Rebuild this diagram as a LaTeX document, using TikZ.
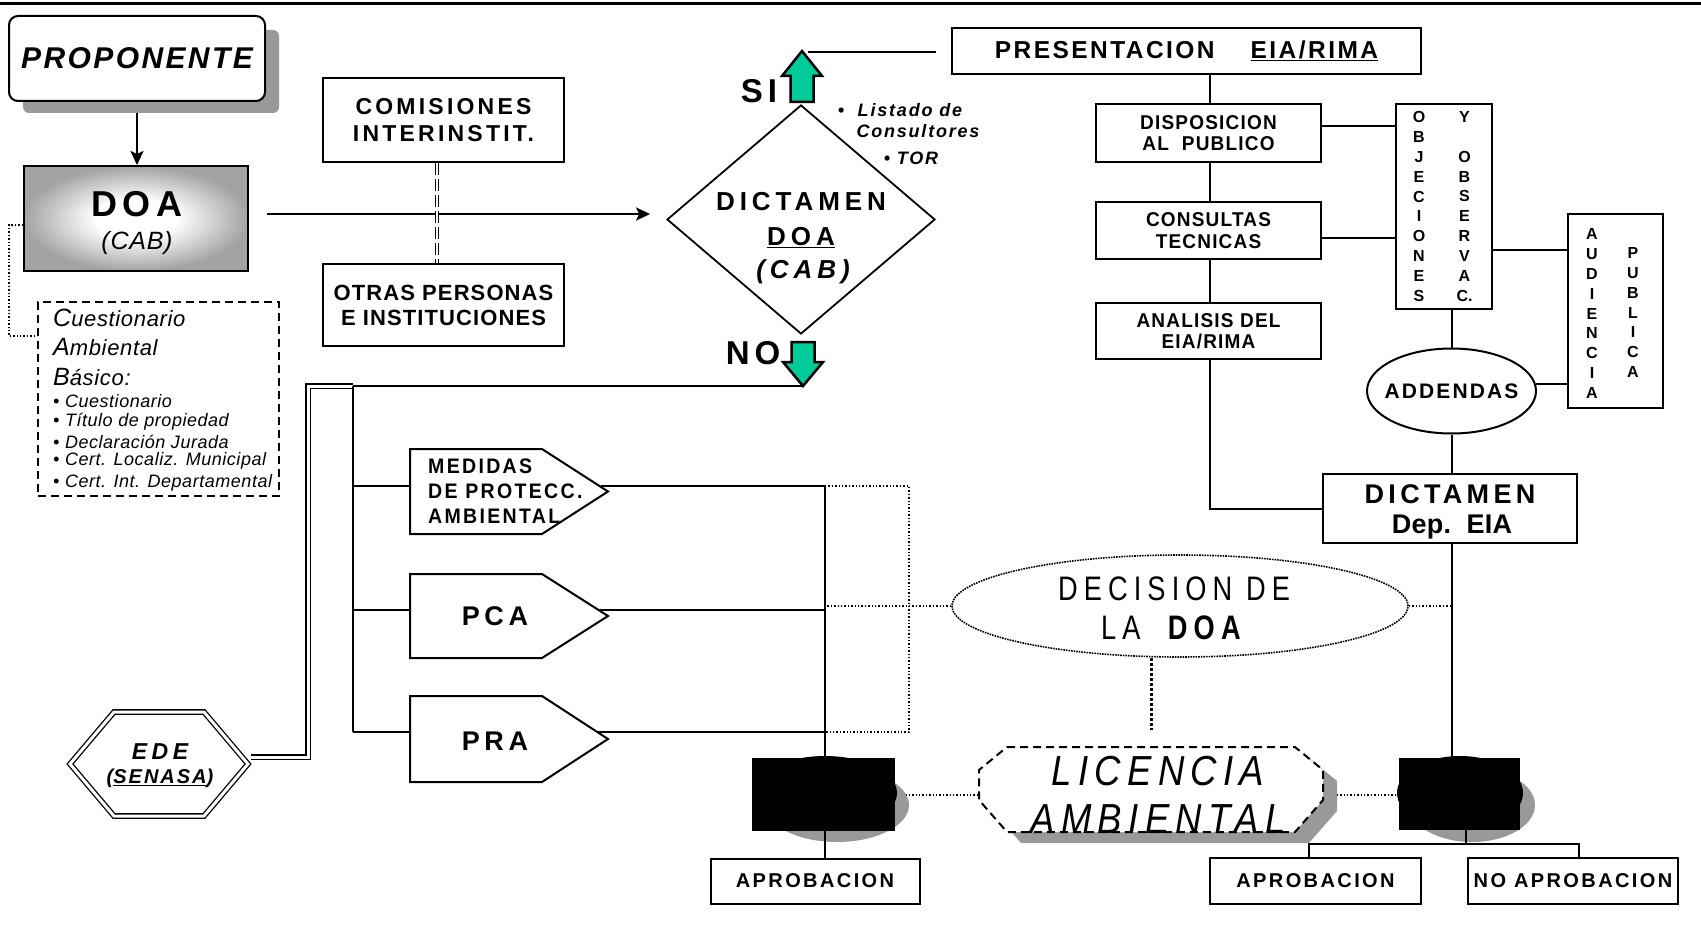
\documentclass[tikz,border=0pt]{standalone}
\usepackage{fontspec}
\setmainfont{Liberation Sans}
\usetikzlibrary{calc,shapes.geometric,arrows.meta}
\definecolor{arrgreen}{RGB}{0,204,153}
\definecolor{shgray}{RGB}{153,153,153}
\newcommand{\fsz}[2]{\fontsize{#1}{#2}\selectfont}
\newcommand{\lsp}[1]{\addfontfeature{LetterSpace=#1}}
\newcommand{\lss}[2]{\addfontfeatures{LetterSpace=#1,FakeStretch=#2}}
\pgfdeclareradialshading{doagrad}{\pgfpoint{0bp}{0bp}}{color(0bp)=(white); color(9bp)=(white); color(25bp)=(shgray!90); color(50bp)=(shgray!90)}
\pgfdeclarelayer{bg}
\pgfsetlayers{bg,main}
\begin{document}
\begin{tikzpicture}[x=1pt,y=-1pt,
  conn/.style={line width=2pt},
  tconn/.style={line width=1.5pt},
  dotl/.style={line width=1.4pt, dotted},
  box/.style={draw, line width=2pt, fill=white, inner sep=0pt},
  txt/.style={inner sep=0pt},
  garrow/.style={draw, line width=2.5pt, fill=arrgreen, line join=miter},
  arr/.style={-{Stealth[length=14pt,width=13pt,inset=3pt]}},
  pent/.style={draw, line width=2pt, fill=white},
  btxt/.style={font=\fsz{20}{21.5}\bfseries\lss{6}{0.95}},
  vtxt/.style={txt, align=center, font=\fsz{16}{19.9}\bfseries},
  aprtxt/.style={font=\fsz{20}{20}\bfseries\lsp{12}},
]
\useasboundingbox (0,0) rectangle (1701,939);
\draw[line width=3pt] (0,4) -- (1701,4);

% PROPONENTE
\fill[shgray, rounded corners=6pt] (23,30) rectangle (279,113);
\node[box, rounded corners=9pt, minimum width=256pt, minimum height=85pt,
  font=\fsz{30}{30}\bfseries\itshape\lsp{8}] (prop) at (137,58.5) {PROPONENTE};

% DOA
\node[draw, line width=2pt, shading=doagrad,
  minimum width=224pt, minimum height=105pt, inner sep=0pt] (doa) at (136,218.5) {};
\node[txt, font=\fsz{36}{36}\bfseries\lsp{15}] (doat) at (137,204) {DOA};
\node[txt, font=\fsz{25}{25}\itshape\lsp{3}] (doac) at (137,243) {(CAB)};

% Cuestionario
\node[draw, line width=2pt, dash pattern=on 8pt off 5pt, minimum width=241pt,
  minimum height=194pt, inner sep=0pt] (cuest) at (158.5,399) {};
\node[txt, anchor=west, font=\fsz{22}{22}\itshape\lsp{3}] (cq1) at (53,318) {{\fsz{25}{25}C}uestionario};
\node[txt, anchor=west, font=\fsz{22}{22}\itshape\lsp{3}] (cq2) at (53,347) {{\fsz{25}{25}A}mbiental};
\node[txt, anchor=west, font=\fsz{22}{22}\itshape\lsp{3}] (cq3) at (53,377) {{\fsz{25}{25}B}ásico:};
\node[txt, anchor=west, font=\fsz{18}{18}\itshape\lsp{3}] (cb1) at (53,401) {• Cuestionario};
\node[txt, anchor=west, font=\fsz{18}{18}\itshape\lsp{3}] (cb2) at (53,422) {• Título de propiedad};
\node[txt, anchor=west, font=\fsz{18}{18}\itshape\lsp{3}] (cb3) at (53,442) {• Declaración Jurada};
\node[txt, anchor=west, font=\fsz{18}{18}\itshape\lsp{3}] (cb4) at (53,461) {• Cert. Localiz. Municipal};
\node[txt, anchor=west, font=\fsz{18}{18}\itshape\lsp{3}] (cb5) at (53,483) {• Cert. Int. Departamental};

% Comisiones / Otras
\node[box, minimum width=241pt, minimum height=84pt, align=center,
  font=\fsz{23}{27}\bfseries\lsp{14}] (com) at (443.5,120) {COMISIONES\\INTERINSTIT.};
\node[box, minimum width=241pt, minimum height=82pt, align=center,
  font=\fsz{22}{25}\bfseries\lsp{5}] (oth) at (443.5,305) {OTRAS PERSONAS\\E INSTITUCIONES};

% Diamond
\node[diamond, draw, line width=1.8pt, minimum width=268pt, minimum height=229pt, inner sep=0pt] (dict) at (801,219.5) {};
\node[txt, font=\fsz{26}{26}\bfseries\lsp{19}] (dict1) at (801,202) {DICTAMEN};
\node[txt, font=\fsz{26}{26}\bfseries\lsp{19}] (dict2) at (801,238) {\underline{DOA}};
\node[txt, font=\fsz{26}{26}\bfseries\itshape\lsp{19}] (dict3) at (803,272) {(CAB)};

\node[txt, font=\fsz{33}{33}\bfseries\lsp{15}] (si) at (759,91) {SI};
\node[txt, font=\fsz{33}{33}\bfseries\lsp{15}] (no) at (753,353) {NO};

\draw[garrow] (802,51) -- (822,76) -- (813.5,76) -- (813.5,102) -- (790.5,102) -- (790.5,76) -- (782,76) -- cycle;
\coordinate (uptip) at (802,51);
\draw[garrow] (791.5,342) -- (814.5,342) -- (814.5,362) -- (823,362) -- (803,386) -- (783,362) -- (791.5,362) -- cycle;
\coordinate (dntip) at (803,386);

\node[txt, font=\fsz{18}{18}\bfseries\itshape\lsp{10}] (lst1) at (900,110) {•\ \ Listado de};
\node[txt, font=\fsz{18}{18}\bfseries\itshape\lsp{10}] (lst2) at (918,131) {Consultores};
\node[txt, font=\fsz{18}{18}\bfseries\itshape\lsp{10}] (lst3) at (911,158) {• TOR};

% Right column
\node[box, minimum width=469pt, minimum height=46pt, font=\fsz{24.5}{24.5}\bfseries\lsp{10}] (pres) at (1186.5,51) {PRESENTACION\hspace{36pt}\underline{EIA/RIMA}};
\node[box, btxt, minimum width=225pt, minimum height=58pt, align=center] (disp) at (1208.5,133) {DISPOSICION\\AL\ \ PUBLICO};
\node[box, btxt, minimum width=225pt, minimum height=57pt, align=center] (cons) at (1208.5,230.5) {CONSULTAS\\TECNICAS};
\node[box, btxt, minimum width=225pt, minimum height=56pt, align=center] (anal) at (1208.5,331) {ANALISIS DEL\\EIA/RIMA};

\node[box, minimum width=96pt, minimum height=205pt] (obj) at (1444,206.5) {};
\node[vtxt] (objl) at (1419,206.5) {O\\B\\J\\E\\C\\I\\O\\N\\E\\S};
\node[vtxt] (objr) at (1464.5,206.5) {Y\\\mbox{}\\O\\B\\S\\E\\R\\V\\A\\C.};

\node[box, minimum width=95pt, minimum height=194pt] (aud) at (1615.5,311) {};
\node[vtxt] (audl) at (1592,313.5) {A\\U\\D\\I\\E\\N\\C\\I\\A};
\node[vtxt] (audr) at (1633,312.5) {P\\U\\B\\L\\I\\C\\A};

\node[draw, ellipse, line width=2pt, fill=white, minimum width=169pt, minimum height=85pt, inner sep=0pt] (add) at (1451.5,391) {};
\node[txt, font=\fsz{21}{21}\bfseries\lsp{10}] (addt) at (1451.5,391) {ADDENDAS};

\node[box, minimum width=254pt, minimum height=69pt] (dictd) at (1450,508.5) {};
\node[txt, font=\fsz{27}{27}\bfseries\lsp{16}] (dd1) at (1450,494) {DICTAMEN};
\node[txt, font=\fsz{27}{27}\bfseries\lsp{1}] (dd2) at (1452,527) {Dep.\ \ EIA};

\node[ellipse, draw, line width=1.6pt, densely dotted, minimum width=456pt, minimum height=102pt,
  inner sep=0pt] (dec) at (1180,606) {};
\node[txt, font=\fsz{34}{34}\lss{18}{0.8}] (dec1) at (1174,589) {DECISION DE};
\node[txt, font=\fsz{34}{34}\lss{18}{0.8}] (dec2) at (1174,628) {LA\ \ \textbf{DOA}};

% Licencia
\fill[shgray] (1021,758) -- (1309,758) -- (1337,781) -- (1337,811) -- (1309,843) -- (1021,843) -- (993,811) -- (993,781) -- cycle;
\draw[line width=2pt, dash pattern=on 8pt off 5pt, fill=white] (1007,747) -- (1295,747) -- (1323,770) -- (1323,800) -- (1295,832) -- (1007,832) -- (979,800) -- (979,770) -- cycle;
\node[minimum width=344pt, minimum height=85pt, inner sep=0pt] (lic) at (1151,789.5) {};
\node[txt, align=center, font=\fsz{42}{48}\itshape\lss{15}{0.87}] (lict) at (1158,795) {LICENCIA\\AMBIENTAL};

% black items
\fill[shgray] (837,805) ellipse [x radius=72, y radius=37];
\fill[black] (825,793) ellipse [x radius=72, y radius=37];
\node[fill=black, minimum width=143pt, minimum height=73pt, inner sep=0pt] (lblk) at (823.5,794.5) {};
\fill[shgray] (1472,805) ellipse [x radius=63, y radius=37];
\fill[black] (1460,793) ellipse [x radius=63, y radius=37];
\node[fill=black, minimum width=121pt, minimum height=72pt, inner sep=0pt] (rblk) at (1459.5,794) {};

% Pentagons
\draw[pent] (410,449) -- (542,449) -- (608,491.5) -- (542,534) -- (410,534) -- cycle;
\node[txt, anchor=west, align=left, font=\fsz{21}{25}\bfseries\lss{11}{0.93}] (med) at (428,491) {MEDIDAS\\DE PROTECC.\\AMBIENTAL};
\draw[pent] (410,574) -- (542,574) -- (608,616) -- (542,658) -- (410,658) -- cycle;
\node[txt, font=\fsz{27}{27}\bfseries\lsp{17}] (pca) at (495,616) {PCA};
\draw[pent] (410,696) -- (542,696) -- (608,739) -- (542,782) -- (410,782) -- cycle;
\node[txt, font=\fsz{27}{27}\bfseries\lsp{17}] (pra) at (495,741) {PRA};
\coordinate (medL) at (410,486); \coordinate (medR) at (601,486);
\coordinate (pcaL) at (410,610); \coordinate (pcaR) at (598,610);
\coordinate (praL) at (410,732); \coordinate (praR) at (597,732);

% EDE
\draw[double, double distance=3pt, line width=1.3pt, fill=white] (70,764) -- (114,712) -- (204,712) -- (248,764) -- (204,816) -- (114,816) -- cycle;
\node[txt, font=\fsz{23}{23}\bfseries\itshape\lsp{20}] (ede) at (160,752) {EDE};
\node[txt, font=\fsz{20}{20}\bfseries\itshape\lsp{10}] (senasa) at (160,778) {(\underline{SENASA})};
\coordinate (edeR) at (251,757);

% Aprobacion
\node[box, aprtxt, minimum width=209pt, minimum height=45pt] (aprl) at (815,881) {APROBACION};
\node[box, aprtxt, minimum width=211pt, minimum height=46pt] (aprr) at (1315.5,881) {APROBACION};
\node[box, aprtxt, minimum width=210pt, minimum height=46pt] (noapr) at (1573,881) {NO APROBACION};

\begin{pgfonlayer}{bg}
\draw[conn, arr] (prop.south) -- (prop.south |- doa.north);
\draw[conn, arr] ($(doa.east)+(18,-4.5)$) -- ($(dict.west)+(-16,-5.5)$);
\draw[dotl] (doa.west |- 0,225) -- (9,225) -- (9,336) -- (cuest.west |- 0,336);
\draw[line width=1pt, double, double distance=2.5pt, dash pattern=on 12pt off 4pt] (com.south -| 437,0) -- (oth.north -| 437,0);
\draw[conn] ($(uptip)+(6,1)$) -- ($(pres.west |- uptip)+(-15,1)$);
\draw[conn] (pres.south -| 1210,0) -- (1210,509) -- (dictd.west |- 0,509);
\draw[conn] (disp.east |- 0,126) -- (obj.west |- 0,126);
\draw[conn] (cons.east |- 0,238) -- (obj.west |- 0,238);
\draw[conn] (obj.east |- 0,250) -- (aud.west |- 0,250);
\draw[conn] (add.5) -- (aud.west |- add.5);
\draw[conn] (add.north) -- (add.north |- obj.south);
\draw[conn] (add.south) -- (add.south |- dictd.north);
\draw[tconn] (dictd.south -| 1452,0) -- (1452,793);
\draw[dotl] (dec.east) -- (dec.east -| 1452,0);
\draw[dotl] (dec.west) -- (dec.west -| 825,0);
\draw[dotl] (825,486) -- (909,486) -- (909,732) -- (825,732);
\draw[line width=3pt, dotted] (dec.south -| 1151,0) -- ($(lic.north -| 1151,0)+(0,-17)$);
\draw[dotl] (lblk.east |- 0,795) -- (lic.west |- 0,795);
\draw[dotl] (lic.east |- 0,795) -- (rblk.west |- 0,795);
\draw[conn] (aprr.north -| 1309,0) -- (1309,844) -- (1579,844) -- (noapr.north -| 1579,0);
\draw[line width=1.2pt, double, double distance=3pt] (edeR) -- (308,757) -- (308,386) -- (353,386);
\draw[conn] (353,386) -- (dntip);
\draw[conn] (353,386) -- (353,732);
\draw[conn] (353,486) -- (medL);
\draw[conn] (353,610) -- (pcaL);
\draw[conn] (353,732) -- (praL);
\draw[conn] (medR) -- (825,486);
\draw[conn] (pcaR) -- (825,610);
\draw[conn] (praR) -- (825,732);
\end{pgfonlayer}
\draw[tconn] (825,486) -- (aprl.north -| 825,0);
\draw[conn] (rblk.south -| 1466,0) -- (1466,844);
\end{tikzpicture}
\end{document}
